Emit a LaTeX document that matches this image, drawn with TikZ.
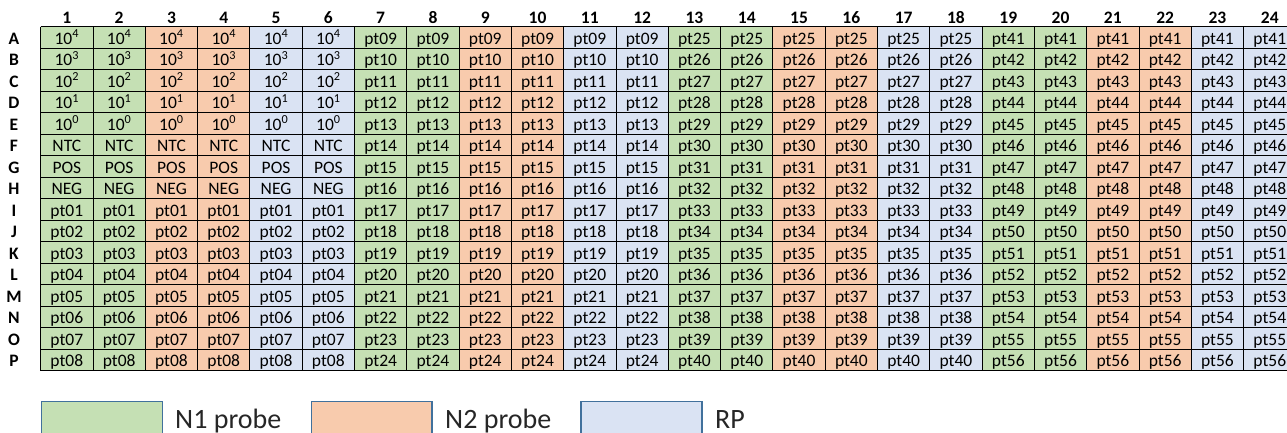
\documentclass[tikz,border=0pt]{standalone}
\usepackage{fontspec}
\setmainfont{Carlito}
\definecolor{col0}{HTML}{C5E0B4}
\definecolor{col1}{HTML}{F8CBAD}
\definecolor{col2}{HTML}{DAE3F3}
\definecolor{legline}{HTML}{41719C}
\begin{document}
\begin{tikzpicture}[x=1pt,y=-1pt,
  celltext/.style={font=\fontsize{17.5}{17.5}\selectfont, inner sep=0pt, anchor=base},
  headtext/.style={font=\fontsize{17.5}{17.5}\selectfont\bfseries, inner sep=0pt, anchor=base},
  legbox/.style={draw=legline, line width=1.5pt},
  legtext/.style={font=\fontsize{28}{28}\selectfont, inner sep=0pt, anchor=base west, text=black!85},
  gridline/.style={black, line width=1pt}]
\useasboundingbox (0,0) rectangle (1287,433);
\clip (0,0) rectangle (1287,433);
\def\xo{40.7}\def\cw{52.3}\def\yo{26.7}\def\rh{21.5}
% column fills
\foreach \c in {1,...,24}{
  \pgfmathtruncatemacro\g{int(mod(\c-1,6)/2)}
  \fill[col\g] ({\xo+(\c-1)*\cw},\yo) rectangle ({\xo+\c*\cw},{\yo+16*\rh});
}
% grid
\foreach \c in {0,...,24}
  \draw[gridline] ({\xo+\c*\cw},\yo) -- ({\xo+\c*\cw},{\yo+16*\rh});
\foreach \r in {0,...,16}
  \draw[gridline] (\xo,{\yo+\r*\rh}) -- ({\xo+24*\cw},{\yo+\r*\rh});
% column headers
\foreach \c in {1,...,24}
  \node[headtext] (h\c) at ({\xo+(\c-0.5)*\cw},24) {\c};
% row labels and cells
\foreach \r/\L in {1/A,2/B,3/C,4/D,5/E,6/F,7/G,8/H,9/I,10/J,11/K,12/L,13/M,14/N,15/O,16/P}{
  \node[headtext] (r\L) at (14,{\yo+(\r-0.5)*\rh+6.8}) {\L};
  \foreach \c in {1,...,24}{
    \pgfmathtruncatemacro\b{int((\c-1)/6)}
    \ifnum\b=0
      \ifnum\r<6
        \pgfmathtruncatemacro\e{5-\r}
        \node[celltext] (c\L\c) at ({\xo+(\c-0.5)*\cw},{\yo+(\r-0.5)*\rh+6.8}) {10\textsuperscript{\e}};
      \else\ifnum\r=6
        \node[celltext] (c\L\c) at ({\xo+(\c-0.5)*\cw},{\yo+(\r-0.5)*\rh+6.8}) {NTC};
      \else\ifnum\r=7
        \node[celltext] (c\L\c) at ({\xo+(\c-0.5)*\cw},{\yo+(\r-0.5)*\rh+6.8}) {POS};
      \else\ifnum\r=8
        \node[celltext] (c\L\c) at ({\xo+(\c-0.5)*\cw},{\yo+(\r-0.5)*\rh+6.8}) {NEG};
      \else
        \pgfmathtruncatemacro\n{\r-8}
        \node[celltext] (c\L\c) at ({\xo+(\c-0.5)*\cw},{\yo+(\r-0.5)*\rh+6.8}) {pt0\n};
      \fi\fi\fi\fi
    \else
      \pgfmathtruncatemacro\n{16*\b-8+\r}
      \ifnum\n<10
        \node[celltext] (c\L\c) at ({\xo+(\c-0.5)*\cw},{\yo+(\r-0.5)*\rh+6.8}) {pt0\n};
      \else
        \node[celltext] (c\L\c) at ({\xo+(\c-0.5)*\cw},{\yo+(\r-0.5)*\rh+6.8}) {pt\n};
      \fi
    \fi
  }
}
% legend
\draw[legbox, fill=col0] (41.7,401.7) rectangle (162.7,440);
\node[legtext] (l1) at (175,428.5) {N1 probe};
\draw[legbox, fill=col1] (311.7,401.7) rectangle (432,440);
\node[legtext] (l2) at (445,428.5) {N2 probe};
\draw[legbox, fill=col2] (581,401.7) rectangle (702,440);
\node[legtext] (l3) at (715,428.5) {RP};
\end{tikzpicture}
\end{document}
